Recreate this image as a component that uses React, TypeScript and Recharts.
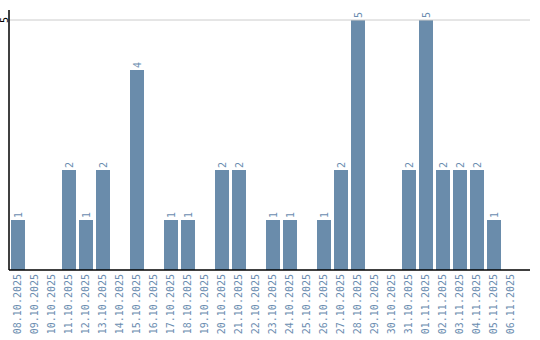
import React from "react";
import { BarChart, Bar, XAxis, YAxis, ReferenceLine, LabelList } from "recharts";

const categories = [
  "08.10.2025", "09.10.2025", "10.10.2025", "11.10.2025", "12.10.2025",
  "13.10.2025", "14.10.2025", "15.10.2025", "16.10.2025", "17.10.2025",
  "18.10.2025", "19.10.2025", "20.10.2025", "21.10.2025", "22.10.2025",
  "23.10.2025", "24.10.2025", "25.10.2025", "26.10.2025", "27.10.2025",
  "28.10.2025", "29.10.2025", "30.10.2025", "31.10.2025", "01.11.2025",
  "02.11.2025", "03.11.2025", "04.11.2025", "05.11.2025", "06.11.2025",
];
const values = [1, 0, 0, 2, 1, 2, 0, 4, 0, 1, 1, 0, 2, 2, 0, 1, 1, 0, 1, 2, 5, 0, 0, 2, 5, 2, 2, 2, 1, 0];
const yTicks = [5];
const gridValue = 5;

const data = categories.map((c, i) => ({ date: c, value: values[i] }));

const FONT = "'DejaVu Sans Mono', monospace";
const TEXT_COLOR = "#6b8db0";
const BAR_COLOR = "#6a8cab";

const XTick = (props: any) => {
  const { x, payload } = props;
  return (
    <text
      transform={`translate(${x},274) rotate(-90)`}
      textAnchor="end"
      dominantBaseline="central"
      fontFamily={FONT}
      fontSize={10}
      fill={TEXT_COLOR}
    >
      {payload.value}
    </text>
  );
};

const YTick = (props: any) => {
  const { y, payload } = props;
  return (
    <text
      transform={`translate(4,${y}) rotate(-90)`}
      textAnchor="middle"
      dominantBaseline="central"
      fontFamily={FONT}
      fontSize={10}
      fill="#000"
    >
      {payload.value}
    </text>
  );
};

const BarLabel = (props: any) => {
  const { x, y, width, value } = props;
  if (!value) return null;
  return (
    <text
      transform={`translate(${x + width / 2},${y - 2}) rotate(-90)`}
      textAnchor="start"
      dominantBaseline="central"
      fontFamily={FONT}
      fontSize={10}
      fill={TEXT_COLOR}
    >
      {value}
    </text>
  );
};

export default function App() {
  return (
    <div style={{ position: "absolute", left: 0, top: 0 }}>
      <BarChart
        width={540}
        height={340}
        data={data}
        margin={{ top: 10, right: 10, bottom: 0, left: 1 }}
        barSize={14}
      >
        <XAxis
          dataKey="date"
          interval={0}
          height={70}
          tickLine={false}
          axisLine={{ stroke: "#000", strokeWidth: 1.5 }}
          tick={<XTick />}
          padding={{ left: 0, right: 11 }}
        />
        <YAxis
          width={8}
          domain={[0, 5.2]}
          ticks={yTicks}
          tickLine={false}
          axisLine={{ stroke: "#000", strokeWidth: 1.5 }}
          tick={<YTick />}
        />
        <ReferenceLine y={gridValue} stroke="#cccccc" ifOverflow="extendDomain" />
        <Bar dataKey="value" fill={BAR_COLOR} isAnimationActive={false}>
          <LabelList dataKey="value" content={<BarLabel />} />
        </Bar>
      </BarChart>
    </div>
  );
}
